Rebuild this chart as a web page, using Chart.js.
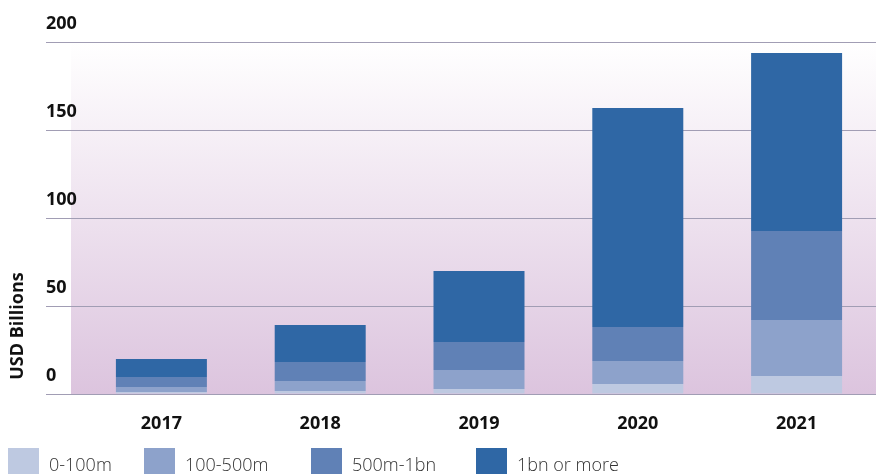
<!DOCTYPE html>
<html>
<head>
<meta charset="utf-8">
<script src="https://cdn.jsdelivr.net/npm/chart.js@4/dist/chart.umd.min.js"></script>
<style>
  html, body { margin: 0; padding: 0; background: #fff; overflow: hidden; }
  .wrap { position: relative; width: 876px; height: 474px; }
  .legend { position: absolute; top: 0; left: 0; width: 876px; height: 474px; pointer-events: none; }
  .legend .item { position: absolute; top: 448px; display: flex; align-items: flex-start; }
  .legend .box { width: 31px; height: 30px; }
  .legend .txt { margin-left: 10px; font-family: "Open Sans", sans-serif; font-weight: 300; font-size: 18px; color: #333; line-height: 30px; margin-top: 1px; }
</style>
</head>
<body>
<div class="wrap">
  <canvas id="fundingChart" width="876" height="474"></canvas>
  <div class="legend" id="legend"></div>
</div>
<script>
// chart values (USD billions)
const years = ['2017', '2018', '2019', '2020', '2021'];
const size0to100m = [1.1, 1.7, 2.8, 5.7, 10.2];
const size100to500m = [2.9, 5.7, 10.8, 13.0, 31.8];
const size500mto1bn = [5.7, 10.8, 15.9, 19.4, 50.6];
const size1bnPlus = [10.2, 21.0, 40.4, 124.4, 101.2];
const seriesNames = ['0-100m', '100-500m', '500m-1bn', '1bn or more'];
const yTicks = [0, 50, 100, 150, 200];

const colors = ['#bec9e1', '#8da2cb', '#6081b6', '#2f67a5'];
const legendLeft = [8, 144, 311, 476];

// soft lavender background behind the plot
const plotBackground = {
    id: 'plotBackground',
    beforeDraw(chart) {
        const { ctx, chartArea } = chart;
        const left = chartArea.left - 11;
        const g = ctx.createLinearGradient(0, chartArea.top, 0, chartArea.bottom);
        g.addColorStop(0, '#ffffff');
        g.addColorStop(1, '#dcc4de');
        ctx.save();
        ctx.fillStyle = g;
        ctx.fillRect(left, chartArea.top, chartArea.right - left, chartArea.bottom - chartArea.top);
        ctx.restore();
    }
};

// axis title sits low, near the bottom of the y axis
const yTitle = {
    id: 'yTitle',
    afterDraw(chart) {
        const { ctx } = chart;
        ctx.save();
        ctx.translate(18, 326);
        ctx.rotate(-Math.PI / 2);
        ctx.font = 'bold 18px "Open Sans", sans-serif';
        ctx.fillStyle = '#111';
        ctx.textAlign = 'center';
        ctx.textBaseline = 'middle';
        ctx.fillText('USD Billions', 0, 0);
        ctx.restore();
    }
};

const seriesData = [size0to100m, size100to500m, size500mto1bn, size1bnPlus];

new Chart(document.getElementById('fundingChart'), {
    type: 'bar',
    data: {
        labels: years,
        datasets: seriesNames.map((name, i) => ({
            label: name,
            data: seriesData[i],
            backgroundColor: colors[i],
            borderWidth: 0,
            categoryPercentage: 1,
            barPercentage: 0.573
        }))
    },
    options: {
        responsive: false,
        animation: false,
        layout: { padding: { top: 42, left: 46, right: 0, bottom: 40 } },
        plugins: {
            legend: { display: false },
            tooltip: { enabled: false }
        },
        scales: {
            x: {
                stacked: true,
                grid: { display: false },
                border: { display: false },
                ticks: {
                    color: '#111',
                    padding: 11,
                    font: { family: '"Open Sans", sans-serif', size: 18, weight: 'bold' }
                },
                afterFit: s => { s.height = 40; }
            },
            y: {
                stacked: true,
                min: 0,
                max: 200,
                afterBuildTicks: s => { s.ticks = yTicks.map(v => ({ value: v })); },
                grid: { color: '#a19db4', lineWidth: 1, drawTicks: true, tickLength: 36 },
                border: { display: false },
                ticks: {
                    color: '#111',
                    crossAlign: 'far',
                    padding: 0,
                    labelOffset: -18,
                    font: { family: '"Open Sans", sans-serif', size: 18, weight: 'bold' }
                },
                afterFit: s => { s.width = 36; }
            }
        }
    },
    plugins: [plotBackground, yTitle]
});

// legend drawn as html so the uneven spacing of the original can be kept
const legend = document.getElementById('legend');
seriesNames.forEach((name, i) => {
    const item = document.createElement('div');
    item.className = 'item';
    item.style.left = legendLeft[i] + 'px';
    item.innerHTML = '<div class="box" style="background:' + colors[i] + '"></div><div class="txt">' + name + '</div>';
    legend.appendChild(item);
});
</script>
</body>
</html>
